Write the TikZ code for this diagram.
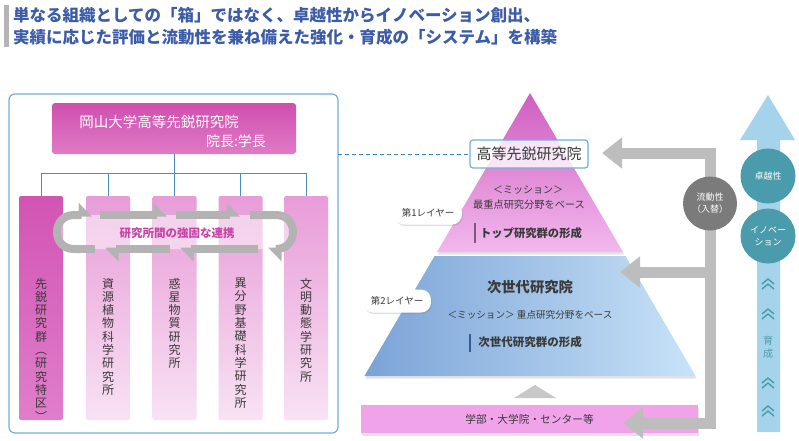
\documentclass[tikz,border=0pt]{standalone}
\usepackage{fontspec}
\setmainfont{Noto Sans CJK JP}
\usetikzlibrary{arrows.meta,shadows}
\definecolor{titleblue}{HTML}{3C5CA8}
\definecolor{titlebar}{HTML}{B5B5B5}
\definecolor{magA}{HTML}{CF4FAE}
\definecolor{magB}{HTML}{E07AC6}
\definecolor{colA}{HTML}{D254B4}
\definecolor{colB}{HTML}{EDA6DE}
\definecolor{colE}{HTML}{E07ECB}
\definecolor{colC}{HTML}{E89CD8}
\definecolor{colD}{HTML}{F8E2F4}
\definecolor{pyrA}{HTML}{D05EC0}
\definecolor{pyrB}{HTML}{F2B8EE}
\definecolor{bluL}{HTML}{7AA3D6}
\definecolor{bluR}{HTML}{C8E2F8}
\definecolor{barpink}{HTML}{F1A3EA}
\definecolor{garrow}{HTML}{BDBDBD}
\definecolor{smalltri}{HTML}{C8C8C8}
\definecolor{flowgray}{HTML}{7B7B7B}
\definecolor{tealc}{HTML}{4A9BAB}
\definecolor{arrowblue}{HTML}{A6D3EC}
\definecolor{boxblue}{HTML}{72AEDA}
\definecolor{dashblue}{HTML}{3A86C0}
\definecolor{treeblue}{HTML}{4A8DC0}
\definecolor{txt}{HTML}{3A3A3A}
\definecolor{loopmag}{HTML}{C645A6}
\definecolor{loopgray}{HTML}{B3B3B3}
\definecolor{barpurple}{HTML}{7A5A80}
\definecolor{barblue}{HTML}{3A5AA0}
\begin{document}
\begin{tikzpicture}[x=1pt,y=-1pt,
  every node/.style={inner sep=0pt, outer sep=0pt},
  colbox/.style={minimum width=44pt, minimum height=224pt, rounded corners=2pt, top color=colC, bottom color=colD},
  coltext/.style={align=center, text=txt, font=\fontsize{12}{13.3}\selectfont, anchor=north},
  tlink/.style={draw=treeblue, line width=0.9pt},
  loopar/.style={draw=loopgray, line width=8pt, -{Triangle[left, length=12pt, width=24pt]}},
  loopseg/.style={draw=loopgray, line width=8pt},
  gar/.style={draw=garrow, line width=11pt, line join=miter},
  gtip/.style={-{Triangle[length=20pt,width=30pt]}},
  gtips/.style={{Triangle[length=20pt,width=30pt]}-{Triangle[length=20pt,width=30pt]}},
  layertag/.style={fill=white, rounded corners=10pt, drop shadow={opacity=0.25, shadow xshift=1pt, shadow yshift=-1.5pt}, minimum width=68pt, minimum height=23pt, font=\fontsize{9.5}{11}\selectfont, text=txt},
  tcirc/.style={circle, fill=tealc, minimum size=55pt, text=white, align=center, font=\fontsize{9}{11.5}\selectfont},
  chev/.style={draw=tealc, line width=1.4pt},
  pshadow/.style={drop shadow={opacity=0.22, shadow xshift=1pt, shadow yshift=-2.5pt}},
]
\useasboundingbox (0,0) rectangle (799,440);

% title
\fill[titlebar] (4,5) rectangle (9,47);
\node[anchor=west, text=titleblue, font=\fontsize{16.5}{18}\selectfont\bfseries] (title1) at (13,15) {単なる組織としての「箱」ではなく、卓越性からイノベーション創出、};
\node[anchor=west, text=titleblue, font=\fontsize{16.5}{18}\selectfont\bfseries] (title2) at (13,37) {実績に応じた評価と流動性を兼ね備えた強化・育成の「システム」を構築};

% left box
\node[draw=boxblue, line width=1.2pt, rounded corners=6pt, fill=white, minimum width=329pt, minimum height=339pt] (lbox) at (173.5,263.5) {};
\node[rounded corners=3pt, top color=magA, bottom color=magB, minimum width=244pt, minimum height=51pt] (head) at (174,128.5) {};
\node[text=white, font=\fontsize{14.5}{16}\selectfont] (headt1) at (159,122) {岡山大学高等先鋭研究院};
\node[text=white, font=\fontsize{14}{16}\selectfont] (headt2) at (236,141) {院長:学長};

% columns
\node[minimum width=44pt, minimum height=224pt, rounded corners=2pt, top color=colA, middle color=colB, bottom color=colE] (c1) at (41,308) {};
\node[colbox] (c2) at (108,308) {};
\node[colbox] (c3) at (174.5,308) {};
\node[colbox] (c4) at (240.5,308) {};
\node[colbox] (c5) at (306,308) {};

% tree
\coordinate (hub) at (174,173);
\draw[tlink] (head.south) -- (hub);
\draw[tlink] (c1.north |- hub) -- (c5.north |- hub);
\foreach \i in {1,...,5} {\draw[tlink] (c\i.north |- hub) -- (c\i.north);}

% loop
\fill[white, opacity=0.5] (74,215) -- (276,215) .. controls (298.7,215) and (298.7,249) .. (276,249) -- (74,249) .. controls (51.3,249) and (51.3,215) .. (74,215) -- cycle;
\draw[loopar] (80,249) -- (74,249) .. controls (51.3,249) and (51.3,215) .. (74,215) -- (92,215);
\draw[loopar] (100,215) -- (167,215);
\draw[loopar] (176,215) -- (240,215);
\draw[loopar] (250,215) -- (276,215) .. controls (298.7,215) and (298.7,249) .. (276,249) -- (268,249);
\draw[loopar] (258,249) -- (180,249);
\draw[loopar] (170,249) -- (105,249);
\draw[loopseg] (95,249) -- (79,249);
\node[text=loopmag, font=\fontsize{11.5}{13}\selectfont\bfseries] (loopt) at (177,233) {研究所間の強固な連携};

% column texts
\node[coltext] (c1t) at (41,278) {先\\鋭\\研\\究\\群\\︵\\研\\究\\特\\区\\︶};
\node[coltext] (c2t) at (108,278) {資\\源\\植\\物\\科\\学\\研\\究\\所};
\node[coltext] (c3t) at (174.5,278) {惑\\星\\物\\質\\研\\究\\所};
\node[coltext] (c4t) at (240.5,278) {異\\分\\野\\基\\礎\\科\\学\\研\\究\\所};
\node[coltext] (c5t) at (306,278) {文\\明\\動\\態\\学\\研\\究\\所};

% pyramid
\path[pshadow, top color=pyrA, bottom color=pyrB] (530,93) -- (623,252) -- (437,252) -- cycle;
\path[pshadow, left color=bluL, right color=bluR] (434.6,256) -- (625.4,256) -- (695.6,376) -- (364.4,376) -- cycle;

\node[draw=boxblue, line width=1.2pt, rounded corners=3pt, fill=white, fill opacity=0.8, text opacity=1, minimum width=118pt, minimum height=28pt, text=txt, font=\fontsize{15}{17}\selectfont] (hk) at (529,154) {高等先鋭研究院};
\draw[dashblue, line width=1pt, dash pattern=on 4pt off 3pt] (lbox.east |- hk.west) -- (hk.west);

\node[text=txt, font=\fontsize{10}{12}\selectfont] (m1) at (528,190) {＜ミッション＞};
\node[text=txt, font=\fontsize{10.2}{12}\selectfont] (m1b) at (529,205) {最重点研究分野をベース};
\node[text=txt, font=\fontsize{11.3}{13}\selectfont\bfseries] (m1c) at (531,233) {トップ研究群の形成};
\draw[barpurple, line width=1.5pt] (475,223) -- (475,243);

\node[text=txt, font=\fontsize{14.3}{16}\selectfont\bfseries] (n1) at (530,287) {次世代研究院};
\node[text=txt, font=\fontsize{9.6}{12}\selectfont] (n2) at (530,315) {＜ミッション＞ 重点研究分野をベース};
\node[text=txt, font=\fontsize{11.5}{13}\selectfont\bfseries] (n3) at (530,342) {次世代研究群の形成};
\draw[barblue, line width=1.5pt] (470,334) -- (470,352);

\node[layertag] (lay1) at (428,213) {第1レイヤー};
\node[layertag] (lay2) at (397,301) {第2レイヤー};

% base bar
\node[fill=barpink, minimum width=337pt, minimum height=28pt, pshadow, text=txt, font=\fontsize{10.7}{12}\selectfont] (base) at (529.5,419) {学部・大学院・センター等};
\fill[smalltri] (535,385) -- (556,398) -- (514,398) -- cycle;

% grey frame arrows
\coordinate (ftop) at (710,153);
\coordinate (fmid) at (710,272);
\coordinate (fbot) at (710,423);
\coordinate (tip1) at (602,153);
\coordinate (tip2) at (620,272);
\coordinate (tip3) at (623,423);
\draw[gar, gtips] (tip1) -- (ftop) -- (fbot) -- (tip3);
\draw[gar, gtip] (fmid) -- (tip2);
\node[circle, fill=flowgray, minimum size=54pt, text=white, align=center, font=\fontsize{9}{12}\selectfont] (flow) at (710,203.5) {流動性\\（入替）};

% right blue arrow
\fill[arrowblue] (757,432) -- (757,140) -- (740,140) -- (768,95) -- (795,140) -- (780,140) -- (780,432) -- cycle;
\node[tcirc] (exc) at (768,176) {卓越性};
\node[tcirc] (inno) at (768,236) {イノベー\\ション};
\foreach \y in {283,313,382,410} {
  \draw[chev] (762,\y+1) -- (768,\y-4) -- (774,\y+1);
  \draw[chev] (762,\y+6) -- (768,\y+1) -- (774,\y+6);
}
\node[text=tealc, font=\fontsize{10}{12.5}\selectfont, align=center] (ik) at (768,347) {育\\成};
\end{tikzpicture}
\end{document}
